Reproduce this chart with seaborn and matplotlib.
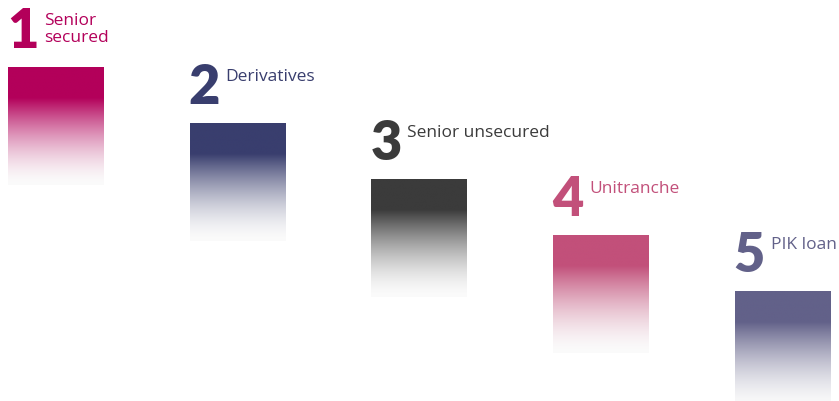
import matplotlib
matplotlib.use("Agg")
import matplotlib.pyplot as plt
import matplotlib.colors as mcolors
import seaborn as sns
import numpy as np

# ranking data
ranks = [1, 2, 3, 4, 5]
labels = ["Senior\nsecured", "Derivatives", "Senior unsecured", "Unitranche", "PIK loan"]
colors = ["#B3005A", "#393E6E", "#3B3B3B", "#C2507A", "#626189"]

sns.set_theme(style="white")
plt.rcParams['font.family'] = ['Open Sans', 'DejaVu Sans']

fig = plt.figure(figsize=(8.39, 4.01), dpi=100)
ax = fig.add_axes([0, 0, 1, 1])
ax.set_xlim(0, 839)
ax.set_ylim(401, 0)
ax.axis("off")

# step layout (pixels)
x_start, x_step = 8, 181.7
y_start, y_step = 67, 56
block_w, block_h = 96, 118
solid_frac = 0.26

# vertical fade profile
t = np.linspace(0, 1, 200)
alpha = np.where(t < solid_frac, 1.0, ((1 - t) / (1 - solid_frac)).clip(0, 1) ** 1.6)
fade_to = np.array(mcolors.to_rgb("#fbfbfb"))

for i, (r, lab, c) in enumerate(zip(ranks, labels, colors)):
    x0 = x_start + i * x_step
    top = y_start + i * y_step
    rgb = np.array(mcolors.to_rgb(c))
    grad = alpha[:, None] * rgb + (1 - alpha[:, None]) * fade_to
    img = grad[:, None, :]
    ax.imshow(img, extent=(x0, x0 + block_w, top + block_h, top),
              aspect="auto", interpolation="bilinear", zorder=1)
    ax.text(x0 - 1, top - 19, str(r), color=c, fontsize=39, fontweight="heavy",
            va="baseline", ha="left", family=['Lato', 'DejaVu Sans'])
    ax.text(x0 + 36, top - 54, lab, color=c, fontsize=12.5, va="top", ha="left",
            linespacing=1.05)

ax.set_xlim(0, 839)
ax.set_ylim(401, 0)
fig.savefig("out.png", dpi=100)
